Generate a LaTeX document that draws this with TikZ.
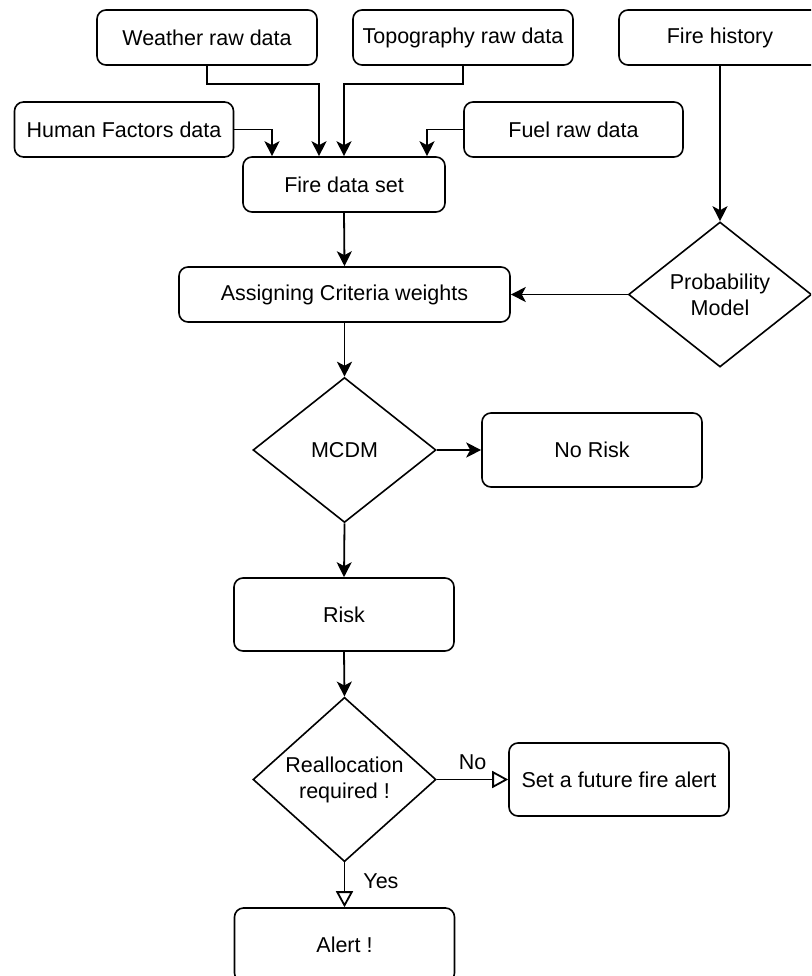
\documentclass[tikz,border=0pt]{standalone}
\usepackage{fontspec}
\setmainfont{Liberation Sans}
\usetikzlibrary{shapes.geometric,arrows.meta}

\begin{document}
\begin{tikzpicture}[x=1pt,y=-1pt,
  every node/.style={font=\fontsize{21.5}{26}\selectfont},
  box/.style={draw, rounded corners=9pt, line width=1.6pt, minimum width=220pt,
    minimum height=55pt, inner sep=0pt, align=center},
  decision/.style={draw, diamond, line width=1.6pt, minimum width=183pt,
    minimum height=145pt, inner sep=0pt, align=center},
  arr/.style={line width=1.8pt, -{Stealth[length=15pt,width=15pt,inset=4pt]}},
  oarr/.style={line width=1.8pt, -{Triangle[open,length=16pt,width=17pt,fill=white]}},
  lbl/.style={inner sep=0pt}]

\useasboundingbox (0,0) rectangle (811,976);
\clip (0,0) rectangle (811,976);

% data sources
\node[box] (weather)  at (207,37.5)   {Weather raw data};
\node[box] (topo)     at (463,37.5)   {Topography raw data};
\node[box, minimum width=202pt] (firehist) at (720,37.5) {Fire history};
\node[box, minimum width=219pt] (human) at (124,129.5) {Human Factors data};
\node[box, minimum width=219pt] (fuel)  at (573.5,129.5) {Fuel raw data};

% processing chain
\node[box, minimum width=202pt] (fireset) at (344,184.5) {Fire data set};
\node[box, minimum width=331pt] (assign)  at (344.5,294.5) {Assigning Criteria weights};
\node[decision] (prob) at (720,294.5) {Probability\\Model};
\node[decision] (mcdm) at (344.5,450) {MCDM};
\node[box, minimum height=74pt] (norisk) at (592,450) {No Risk};
\node[box, minimum height=73pt] (risk)   at (344,614.5) {Risk};
\node[decision] (realloc) at (344.5,779.5) {Reallocation\\required !};
\node[box, minimum height=73pt] (setalert) at (619,779.5) {Set a future fire alert};
\node[box, minimum height=74pt] (alert) at (344.5,945) {Alert !};

% inputs into the fire data set
\draw[arr] (weather.south) -- ++(0,18) -| ([xshift=-25pt]fireset.north);
\draw[arr] (topo.south) -- ++(0,18) -| (fireset.north);
\draw[arr] (human.east) -| ([xshift=-72pt]fireset.north);
\draw[arr] (fuel.west) -| ([xshift=83pt]fireset.north);

% main flow
\draw[arr] (firehist.south) -- (prob.north);
\draw[arr] (fireset.south) -- (assign.north);
\draw[arr] (prob.west) -- (assign.east);
\draw[arr] (assign.south) -- (mcdm.north);
\draw[arr] (mcdm.east) -- (norisk.west);
\draw[arr] (mcdm.south) -- (risk.north);
\draw[arr] (risk.south) -- (realloc.north);

% decision outcomes
\draw[oarr] (realloc.east) -- (setalert.west)
  node[lbl, midway, above=9pt] {No};
\draw[oarr] (realloc.south) -- (alert.north)
  node[lbl, midway, right=18pt, yshift=4pt] {Yes};
\end{tikzpicture}
\end{document}
